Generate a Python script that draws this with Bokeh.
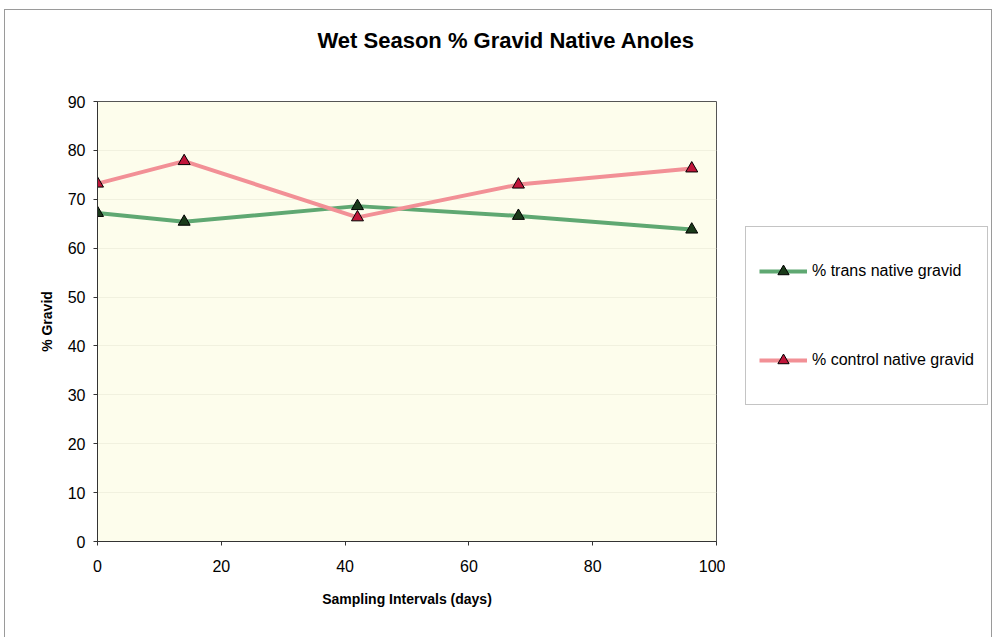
from bokeh.plotting import figure
from bokeh.layouts import row
from bokeh.models import Legend, LegendItem, FixedTicker, Range1d, Title
from bokeh.embed import file_html
from bokeh.resources import INLINE

days = [0, 14, 42, 68, 96]
trans_native = [67.2, 65.4, 68.6, 66.6, 63.8]
control_native = [73.2, 77.8, 66.3, 73.0, 76.3]
x_ticks = [0, 20, 40, 60, 80, 100]
y_ticks = [0, 10, 20, 30, 40, 50, 60, 70, 80, 90]
series_labels = ["% trans native gravid", "% control native gravid"]

FONT = "Liberation Sans"
GREEN, PINK = "#5fa872", "#f29096"
GREEN_MK, RED_MK = "#1a3a1a", "#c0163a"

p = figure(width=720, height=627, output_backend="svg", toolbar_location=None,
           x_range=Range1d(0, 100), y_range=Range1d(0, 90),
           min_border_left=92, min_border_right=9, min_border_top=91, min_border_bottom=96)
p.background_fill_color = "#fdfdec"
p.border_fill_color = "white"
p.outline_line_color = "#555555"
p.outline_line_width = 1
p.title.visible = False

# spacer between frame and title, then the title
p.add_layout(Title(text=" ", text_font_size="1px", standoff=44), "above")
p.add_layout(Title(text="Wet Season % Gravid Native Anoles", align="left", offset=220,
                   text_font=FONT, text_font_size="22px", text_font_style="bold",
                   text_color="black", standoff=4), "above")

p.xaxis.ticker = FixedTicker(ticks=x_ticks)
p.yaxis.ticker = FixedTicker(ticks=y_ticks)
for ax in (p.xaxis[0], p.yaxis[0]):
    ax.axis_line_color = "#333333"
    ax.major_tick_line_color = "#333333"
    ax.major_tick_out = 4
    ax.major_tick_in = 0
    ax.minor_tick_line_color = None
    ax.major_label_text_font = FONT
    ax.major_label_text_font_size = "16px"
    ax.major_label_text_color = "black"
    ax.axis_label_text_font = FONT
    ax.axis_label_text_font_size = "14px"
    ax.axis_label_text_font_style = "bold"
    ax.axis_label_text_color = "black"
p.xaxis.axis_label = "Sampling Intervals (days)"
p.yaxis.axis_label = "% Gravid"
p.xaxis.major_label_standoff = 14
p.xaxis.axis_label_standoff = 16
p.yaxis.major_label_standoff = 8
p.yaxis.axis_label_standoff = 10

p.xgrid.grid_line_color = None
p.ygrid.grid_line_color = "#f1f1df"

p.line(days, trans_native, line_color=GREEN, line_width=4)
p.scatter(days, trans_native, marker="triangle", size=12, fill_color=GREEN_MK, line_color="black")
p.line(days, control_native, line_color=PINK, line_width=4)
p.scatter(days, control_native, marker="triangle", size=12, fill_color=RED_MK, line_color="black")

# legend panel to the right (same borders top/bottom so frames line up)
q = figure(width=266, height=627, output_backend="svg", toolbar_location=None,
           x_range=Range1d(0, 1), y_range=Range1d(0, 1),
           x_axis_location=None, y_axis_location=None,
           min_border_left=20, min_border_right=1, min_border_top=91, min_border_bottom=96)
q.title.visible = False
q.xgrid.grid_line_color = None
q.ygrid.grid_line_color = None
q.background_fill_color = "white"
q.border_fill_color = "white"
q.outline_line_color = None

# legend proxies (same series, outside q's visible range)
g1 = q.line(days, trans_native, line_color=GREEN, line_width=4)
g2 = q.scatter(days, trans_native, marker="triangle", fill_color=GREEN_MK, line_color="black")
r1 = q.line(days, control_native, line_color=PINK, line_width=4)
r2 = q.scatter(days, control_native, marker="triangle", fill_color=RED_MK, line_color="black")

legend = Legend(items=[LegendItem(label=series_labels[0], renderers=[g1, g2]),
                       LegendItem(label=series_labels[1], renderers=[r1, r2])],
                location=(0, 136), orientation="vertical")
legend.label_text_font = FONT
legend.label_text_font_size = "16px"
legend.label_text_color = "black"
legend.glyph_width = 48
legend.glyph_height = 28
legend.label_height = 62
legend.spacing = 27
legend.padding = 13
legend.margin = 0
legend.border_line_color = "#8a8a8a"
legend.background_fill_color = "white"
legend.background_fill_alpha = 1
legend.label_standoff = 5
q.add_layout(legend, "center")

layout = row(p, q)
layout.styles = {"border": "1px solid #9a9a9a", "margin-left": "4px", "margin-top": "9px"}

open("out.html", "w").write(file_html(layout, INLINE))
